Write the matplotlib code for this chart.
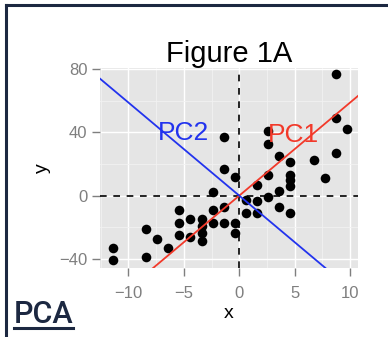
import numpy as np
import matplotlib
matplotlib.use("Agg")
import matplotlib.pyplot as plt
from matplotlib.ticker import MultipleLocator

# point values
x_vals = [8.7, 8.7, 9.7, 8.7, 6.7, 7.7,
          4.6, 4.6, 4.6, 4.6, 4.6,
          3.6, 3.6, 3.6,
          2.6, 2.6, 2.6, 2.6,
          1.6, 1.6, 1.6,
          0.6, 0.6,
          -0.4, -0.4, -0.4,
          -1.4, -1.4, -1.4, -1.4,
          -2.4, -2.4, -2.4,
          -3.4, -3.4, -3.4, -3.4,
          -4.4, -4.4,
          -5.4, -5.4, -5.4,
          -6.4, -7.4, -8.4, -8.4, -11.4, -11.4]
y_vals = [77, 49, 42, 27, 22.6, 11,
          21, 13, 10, 6, -11,
          25, 3, -7,
          41, 33, 13, -1,
          7, -3.5, -11,
          -2.7, -11,
          12, -17, -23.4,
          37, 17, -7, -17,
          2.5, -9, -17,
          -15, -19, -23.5, -29,
          -15, -26,
          -9, -17, -25,
          -33, -27.5, -21, -39, -33, -41]

pc_labels = ["PC1", "PC2"]
pc_slopes = [5.9, -5.9]
pc_colors = ["#f2392a", "#2233ee"]
pc_label_pos = [(4.9, 38.5), (-5.0, 39.5)]

x_ticks = [-10, -5, 0, 5, 10]
y_ticks = [-40, 0, 40, 80]

plt.rcParams['font.family'] = ['Liberation Sans', 'DejaVu Sans']

fig = plt.figure(figsize=(3.88, 3.37), dpi=100)
fig.patch.set_facecolor("white")

ax = fig.add_axes([100 / 388, 69 / 337, 258 / 388, 200 / 337])
ax.set_facecolor("#e5e5e5")
ax.set_xlim(-12.55, 10.7)
ax.set_ylim(-45.8, 80.8)

ax.xaxis.set_minor_locator(MultipleLocator(2.5))
ax.yaxis.set_minor_locator(MultipleLocator(20))
ax.set_xticks(x_ticks)
ax.set_yticks(y_ticks)
ax.grid(which="major", color="white", linewidth=1.0)
ax.grid(which="minor", color="#f2f2f2", linewidth=0.6)
ax.set_axisbelow(True)
for s in ax.spines.values():
    s.set_visible(False)
ax.tick_params(which="major", color="#7f7f7f", length=6, width=1,
               labelcolor="#7f7f7f", labelsize=12, pad=3)
ax.tick_params(axis="x", which="major", pad=7)
ax.tick_params(which="minor", length=0)

ax.axhline(0, color="black", linestyle=(0, (4, 4)), linewidth=1.2, zorder=2)
ax.axvline(0, color="black", linestyle=(0, (4, 4)), linewidth=1.2, zorder=2)

ax.scatter(x_vals, y_vals, s=48, color="black", zorder=3, linewidths=0)

xs = np.array([-20, 20])
for lab, slope, col, (tx, ty) in zip(pc_labels, pc_slopes, pc_colors, pc_label_pos):
    ax.plot(xs, slope * xs, color=col, linewidth=1.3, zorder=4)
    ax.text(tx, ty, lab, color=col, fontsize=19, ha="center", va="center", zorder=5)

ax.set_title("Figure 1A", fontsize=21, pad=4)
ax.set_xlabel("x", fontsize=14, labelpad=3)
ax.set_ylabel("y", fontsize=14, labelpad=6)

# slide frame and caption
navy = "#1c2841"
fig.add_artist(plt.Line2D([6 / 388, 1], [1 - 5 / 337, 1 - 5 / 337], color=navy, lw=2.2))
fig.add_artist(plt.Line2D([6 / 388, 6 / 388], [0, 1 - 5 / 337], color=navy, lw=2.2))
fig.text(14 / 388, 1 - 323 / 337, "PCA", color=navy, fontsize=22, fontweight="medium",
         family="Roboto", stretch="condensed")
fig.add_artist(plt.Line2D([14 / 388, 73 / 388], [1 - 328 / 337, 1 - 328 / 337], color=navy, lw=2.2))

fig.savefig("out.png", dpi=100)
